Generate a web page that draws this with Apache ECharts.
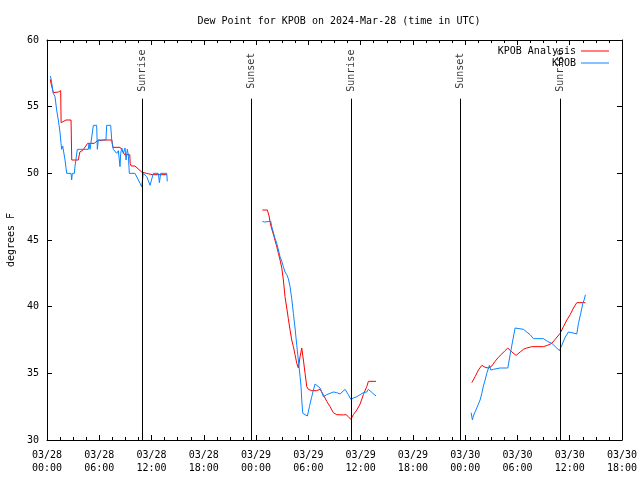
<!DOCTYPE html>
<html>
<head>
<meta charset="utf-8">
<script src="https://cdn.jsdelivr.net/npm/echarts@6/dist/echarts.min.js"></script>
<style>html,body{margin:0;padding:0;background:#fff}#c{width:640px;height:480px}</style>
</head>
<body>
<div id="c"></div>
<script>
// hours since 03/28 00:00 UTC
const xTickLabels = ['03/28\n00:00','03/28\n06:00','03/28\n12:00','03/28\n18:00','03/29\n00:00','03/29\n06:00','03/29\n12:00','03/29\n18:00','03/30\n00:00','03/30\n06:00','03/30\n12:00','03/30\n18:00'];
const yTicks = [30,35,40,45,50,55,60];
const sunHours = [10.98, 23.42, 34.95, 47.42, 58.93];
const sunLabels = ['Sunrise','Sunset','Sunrise','Sunset','Sunrise'];

const analysisSeg1 = [[0.38,57.05],[0.46,56.75],[0.72,56.05],[1.30,56.1],[1.57,56.2],[1.62,53.8],[1.80,53.8],[2.18,54.0],[2.76,54.0],[2.84,51.0],[3.59,51.0],[3.77,51.6],[4.13,51.75],[4.67,52.25],[5.43,52.25],[5.89,52.5],[6.2,52.45],[6.5,52.5],[7.44,52.5],[7.55,51.95],[8.4,51.95],[8.6,51.75],[8.9,51.4],[9.5,51.4],[9.55,50.75],[9.65,50.55],[10.1,50.55],[10.3,50.4],[10.87,50.1],[11.4,50.0],[12.1,49.9],[13.74,49.9]];
const analysisSeg2 = [[24.72,47.25],[25.29,47.25],[25.49,46.8],[25.68,46.1],[25.87,46.0],[26.06,45.25],[26.37,44.5],[26.56,44.0],[26.75,43.5],[26.95,42.9],[27.13,42.0],[27.32,40.75],[27.52,39.9],[27.7,39.1],[27.9,38.25],[28.09,37.5],[28.28,37.0],[28.47,36.4],[28.67,35.75],[28.85,35.4],[29.05,36.25],[29.24,36.9],[29.31,37.0],[29.43,36.0],[29.62,35.0],[29.82,34.0],[30.0,33.8],[30.39,33.7],[30.96,33.7],[31.34,33.8],[31.72,33.4],[32.11,32.9],[32.49,32.5],[32.87,32.05],[33.26,31.9],[34.02,31.88],[34.33,31.9],[34.59,31.75],[34.87,31.55],[35.17,31.9],[35.56,32.25],[35.94,32.7],[36.31,33.4],[36.7,34.0],[36.89,34.4],[37.77,34.4]];
const analysisSeg3 = [[48.76,34.3],[49.14,34.75],[49.52,35.25],[49.91,35.6],[50.29,35.45],[50.67,35.4],[51.06,35.55],[51.43,35.9],[51.81,36.2],[52.2,36.45],[52.58,36.7],[52.89,36.9],[53.35,36.6],[53.85,36.35],[54.31,36.6],[54.69,36.8],[55.07,36.9],[55.65,37.0],[56.98,37.0],[57.44,37.1],[57.94,37.25],[58.32,37.55],[58.9,38.0],[59.28,38.5],[59.67,39.0],[60.05,39.4],[60.43,39.9],[60.81,40.3],[61.8,40.3]];

const obsSeg1 = [[0.38,57.3],[0.46,57.1],[0.72,56.0],[0.92,55.75],[1.11,54.75],[1.30,54.0],[1.49,53.1],[1.61,52.25],[1.69,51.8],[1.80,52.05],[1.88,51.9],[2.07,51.0],[2.26,50.0],[2.76,50.0],[2.83,49.5],[2.91,50.0],[3.14,50.0],[3.21,50.5],[3.48,51.8],[4.74,51.8],[4.82,52.25],[4.94,51.8],[5.13,51.8],[5.32,53.6],[5.70,53.6],[5.78,51.8],[5.89,52.5],[6.77,52.5],[6.85,53.6],[7.31,53.6],[7.43,52.5],[7.61,51.8],[7.81,51.95],[8.0,51.5],[8.19,51.7],[8.38,50.5],[8.46,51.5],[8.58,51.9],[8.76,51.5],[8.96,51.9],[9.07,51.0],[9.22,51.8],[9.33,51.4],[9.45,50.0],[10.1,50.0],[10.3,49.9],[10.68,49.25],[10.87,49.0],[11.06,50.0],[11.45,49.75],[11.83,49.1],[12.2,50.0],[12.78,50.0],[12.9,49.3],[13.05,50.0],[13.74,50.0],[13.81,49.4]];
const obsSeg2 = [[24.72,46.4],[24.83,46.25],[24.95,46.35],[25.68,46.4],[25.8,46.0],[26.18,45.1],[26.37,44.75],[26.56,44.25],[26.75,43.75],[26.95,43.4],[27.13,43.0],[27.32,42.6],[27.52,42.4],[27.7,42.1],[27.9,41.5],[28.09,40.6],[28.28,39.5],[28.47,38.4],[28.67,37.1],[28.85,36.0],[29.05,34.75],[29.16,34.0],[29.24,33.0],[29.36,32.0],[29.62,31.9],[29.89,31.8],[30.12,32.5],[30.39,33.25],[30.58,33.75],[30.77,34.2],[30.96,34.05],[31.34,33.9],[31.54,33.6],[31.72,33.25],[32.11,33.4],[32.49,33.5],[32.87,33.6],[33.26,33.55],[33.64,33.45],[33.83,33.5],[34.21,33.8],[34.59,33.4],[34.87,33.05],[35.17,33.15],[35.56,33.25],[35.94,33.4],[36.31,33.55],[36.7,33.6],[36.89,33.8],[37.28,33.57],[37.77,33.3]];
const obsSeg3 = [[48.68,32.05],[48.83,31.5],[48.94,31.8],[49.33,32.4],[49.71,33.0],[49.91,33.5],[50.09,34.05],[50.29,34.5],[50.48,35.0],[50.78,35.6],[50.94,35.25],[51.24,35.3],[52.01,35.4],[52.89,35.4],[53.16,36.4],[53.47,37.5],[53.73,38.4],[53.93,38.45],[54.69,38.3],[55.07,38.1],[55.45,37.9],[55.83,37.6],[56.98,37.6],[57.44,37.4],[57.94,37.25],[58.52,36.9],[58.82,36.7],[59.09,37.1],[59.47,37.7],[59.85,38.1],[60.24,38.05],[60.81,37.95],[61.0,38.75],[61.27,39.5],[61.5,40.25],[61.65,40.5],[61.8,40.9]];

const gap1 = [[19,'-']], gap2 = [[43,'-']];
const analysisData = analysisSeg1.concat(gap1, analysisSeg2, gap2, analysisSeg3);
const obsData = obsSeg1.concat(gap1, obsSeg2, gap2, obsSeg3);

const FONT = 'DejaVu Sans Mono';
const chart = echarts.init(document.getElementById('c'), null, {renderer:'canvas'});

const xBase = {
  type:'value', min:0, max:66, interval:6,
  axisLine:{show:true, onZero:false, lineStyle:{color:'#000', width:1}},
  axisTick:{show:true, inside:true, length:5, lineStyle:{color:'#000'}},
  minorTick:{show:true, splitNumber:4, length:3, lineStyle:{color:'#000'}},
  splitLine:{show:false}, minorSplitLine:{show:false}
};
const yBase = {
  type:'value', min:yTicks[0], max:yTicks[yTicks.length-1], interval:5,
  axisLine:{show:true, onZero:false, lineStyle:{color:'#000', width:1}},
  axisTick:{show:true, inside:true, length:5, lineStyle:{color:'#000'}},
  splitLine:{show:false}
};

const sunLineData = sunHours.map(h => [{coord:[h,55.6]},{coord:[h,30]}]);
const sunLabelData = sunHours.map((h,i) => ({value:[h,57.7], name:sunLabels[i]}));

chart.setOption({
  animation:false,
  backgroundColor:'#fff',
  title:{text:'Dew Point for KPOB on 2024-Mar-28 (time in UTC)', left:334, textAlign:'center', top:11,
    textStyle:{fontFamily:FONT, fontSize:10, fontWeight:'normal', color:'#000'}},
  legend:{orient:'vertical', right:26, top:41, align:'right', icon:'rect', itemWidth:28, itemHeight:1, itemGap:2,
    textStyle:{fontFamily:FONT, fontSize:10, color:'#000'},
    data:['KPOB Analysis','KPOB']},
  grid:{left:47, right:18, top:40, bottom:40, outerBoundsMode:'none', containLabel:false},
  xAxis:[
    Object.assign({}, xBase, {position:'bottom',
      axisLabel:{show:true, margin:9, fontFamily:FONT, fontSize:10, color:'#000', lineHeight:13,
        formatter:v => xTickLabels[Math.round(v/6)] || ''}}),
    Object.assign({}, xBase, {position:'top', axisLabel:{show:false}})
  ],
  yAxis:[
    Object.assign({}, yBase, {position:'left', name:'degrees F', nameLocation:'middle', nameGap:31, nameRotate:90,
      nameTextStyle:{fontFamily:FONT, fontSize:10, color:'#000'},
      axisLabel:{show:true, margin:8, fontFamily:FONT, fontSize:10, color:'#000'}}),
    Object.assign({}, yBase, {position:'right', axisLabel:{show:false}})
  ],
  series:[
    {name:'KPOB Analysis', type:'line', data:analysisData, showSymbol:false, symbol:'none', connectNulls:false,
      lineStyle:{color:'#ff0000', width:1}, itemStyle:{color:'#ff0000'}, z:2},
    {name:'KPOB', type:'line', data:obsData, showSymbol:false, symbol:'none', connectNulls:false,
      lineStyle:{color:'#0a84ff', width:1}, itemStyle:{color:'#0a84ff'}, z:3,
      markLine:{silent:true, symbol:'none', label:{show:false}, animation:false,
        lineStyle:{color:'#000', width:1, type:'solid'}, data:sunLineData}},
    {name:'sun', type:'scatter', data:sunLabelData, symbolSize:0, silent:true, z:1,
      label:{show:true, position:'inside', rotate:90, formatter:p => p.name,
        fontFamily:FONT, fontSize:10, color:'#000'}}
  ]
});
</script>
</body>
</html>
